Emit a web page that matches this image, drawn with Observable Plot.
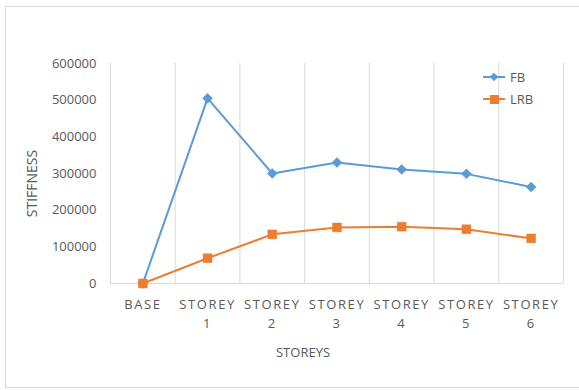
<!DOCTYPE html>
<html>
<head>
<meta charset="utf-8">
<script src="https://cdn.jsdelivr.net/npm/d3@7"></script>
<script src="https://cdn.jsdelivr.net/npm/@observablehq/plot@0.6"></script>
<style>
  html, body { margin: 0; padding: 0; background: #fff; }
  #wrap { position: relative; width: 579px; height: 390px; overflow: hidden; font-family: "Open Sans", "Liberation Sans", sans-serif; }
  #border { position: absolute; left: 5px; top: 6px; width: 600px; height: 382px; border: 1px solid #d9d9d9; box-sizing: border-box; }
  #legend { position: absolute; left: 483px; top: 66px; font-size: 13px; color: #595959; }
  .lrow { display: flex; align-items: center; height: 22px; }
  .lsym { position: relative; width: 22px; height: 16px; margin-right: 5px; }
  .lsym .ln { position: absolute; left: 0; top: 7px; width: 22px; height: 2px; }
  .lsym .mk { position: absolute; }
  .xtick text { letter-spacing: 1.6px; }
</style>
</head>
<body>
<div id="wrap">
  <div id="border"></div>
  <div id="chart"></div>
  <div id="legend"></div>
</div>
<script>
const categories = ["BASE", "STOREY\n1", "STOREY\n2", "STOREY\n3", "STOREY\n4", "STOREY\n5", "STOREY\n6"];
const fb  = [0, 505000, 300000, 330000, 311000, 299000, 263000];
const lrb = [0, 69000, 134000, 153000, 155000, 148000, 123000];
const yTicks = [0, 100000, 200000, 300000, 400000, 500000, 600000];
const seriesNames = ["FB", "LRB"];
const colors = ["#5b9bd5", "#ed7d31"];

const idx = categories.map((c, i) => i);
const bounds = [-0.5, ...idx.map(i => i + 0.5)];
const fbData = fb.map((v, i) => ({i, v}));
const lrbData = lrb.map((v, i) => ({i, v}));

const chart = Plot.plot({
  width: 579,
  height: 390,
  marginLeft: 110,
  marginRight: 16,
  marginTop: 63,
  marginBottom: 107,
  style: {fontFamily: '"Open Sans", "Liberation Sans", sans-serif', fontSize: "13px", color: "#595959", background: "transparent"},
  x: {domain: [-0.5, 6.5]},
  y: {domain: [0, 600000]},
  marks: [
    Plot.ruleX(bounds, {x: d => d, y1: 0, y2: 600000, stroke: "#d9d9d9", strokeWidth: 1}),
    Plot.ruleY([0], {stroke: "#d9d9d9", strokeWidth: 1}),
    Plot.axisY({ticks: yTicks, tickSize: 0, tickPadding: 14, tickFormat: d => String(d), label: null, fontSize: 13}),
    Plot.axisX({ticks: idx, tickSize: 0, tickPadding: 12, tickFormat: i => categories[i], label: null, fontSize: 13, lineHeight: 1.45, className: "xtick"}),
    Plot.text(["STIFFNESS"], {frameAnchor: "left", dx: -78, dy: 10, rotate: -90, fontSize: 14, fill: "#595959", textAnchor: "middle", lineAnchor: "middle"}),
    Plot.text(["STOREYS"], {frameAnchor: "bottom", dx: -34, dy: 69, fontSize: 13, fill: "#595959", textAnchor: "middle", lineAnchor: "middle"}),
    Plot.line(fbData, {x: "i", y: "v", stroke: colors[0], strokeWidth: 2}),
    Plot.line(lrbData, {x: "i", y: "v", stroke: colors[1], strokeWidth: 2}),
    Plot.dot(fbData, {x: "i", y: "v", symbol: "diamond2", r: 4.5, fill: colors[0], stroke: colors[0], strokeWidth: 0.5}),
    Plot.dot(lrbData, {x: "i", y: "v", symbol: "square", r: 5, fill: colors[1], stroke: colors[1], strokeWidth: 0.5})
  ]
});
document.getElementById("chart").appendChild(chart);

const legend = document.getElementById("legend");
seriesNames.forEach((name, k) => {
  const row = document.createElement("div");
  row.className = "lrow";
  const sym = document.createElement("div");
  sym.className = "lsym";
  const ln = document.createElement("div");
  ln.className = "ln";
  ln.style.background = colors[k];
  const mk = document.createElement("div");
  mk.className = "mk";
  mk.style.background = colors[k];
  if (k === 0) {
    mk.style.width = "6px"; mk.style.height = "6px"; mk.style.left = "8px"; mk.style.top = "5px";
    mk.style.transform = "rotate(45deg)";
  } else {
    mk.style.width = "9px"; mk.style.height = "9px"; mk.style.left = "6.5px"; mk.style.top = "3.5px";
  }
  sym.appendChild(ln); sym.appendChild(mk);
  const t = document.createElement("span");
  t.textContent = name;
  row.appendChild(sym); row.appendChild(t);
  legend.appendChild(row);
});
</script>
</body>
</html>
